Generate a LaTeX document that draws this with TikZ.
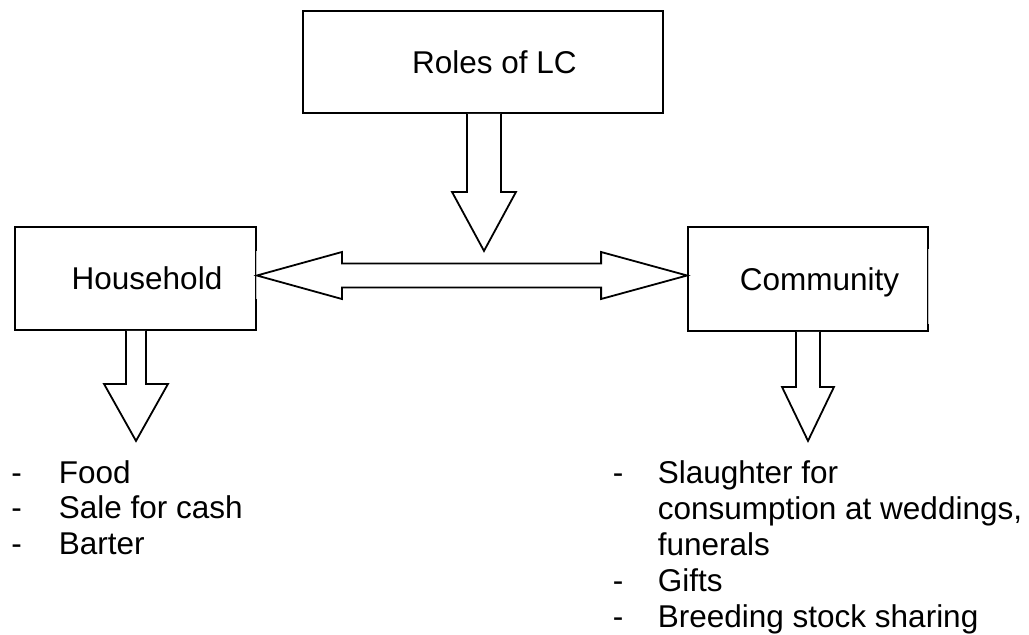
\documentclass[tikz,border=0pt]{standalone}
\usepackage{fontspec}
\setmainfont{Liberation Sans}
\usetikzlibrary{calc}
\begin{document}
\begin{tikzpicture}[x=1pt,y=-1pt,line width=1.8pt,
  every node/.style={font=\fontsize{31.5}{35.5}\selectfont},
  box/.style={draw,inner sep=0pt,text height=22.5pt,text depth=0pt},
  blockarrow/.style={draw,line join=miter,fill=white},
  gapline/.style={draw=white,line width=2.4pt},
  faintline/.style={draw=black!25,line width=1pt},
  listnode/.style={anchor=base west,inner sep=0pt}]
\useasboundingbox (0,0) rectangle (1029,635);

% boxes
\node[box,minimum width=360pt,minimum height=102pt] (roles) at (483,62) {\hspace*{23pt}Roles of LC};
\node[box,minimum width=241pt,minimum height=103pt] (household) at (135.5,278.5) {\hspace*{23pt}Household};
\node[box,minimum width=240pt,minimum height=104pt] (community) at (808,279) {\hspace*{23pt}Community};

% faint parts of right edges
\draw[gapline] ($(household.north east)+(0,25)$) -- ($(household.north east)+(0,73)$);
\draw[faintline] ($(household.north east)+(0,25)$) -- ($(household.north east)+(0,73)$);
\draw[gapline] ($(community.north east)+(0,23)$) -- ($(community.north east)+(0,98)$);
\draw[faintline] ($(community.north east)+(0,23)$) -- ($(community.north east)+(0,98)$);

% Roles -> down arrow
\coordinate (rs) at ($(roles.south)+(1,0)$);
\draw[blockarrow] ($(rs)+(-17,0)$) -- ($(rs)+(-17,78)$) -- ($(rs)+(-32,78)$) -- ($(rs)+(0,137)$)
  -- ($(rs)+(32,78)$) -- ($(rs)+(17,78)$) -- ($(rs)+(17,0)$);

% double arrow between Household and Community
\coordinate (L) at ($(household.east)+(0,-3)$);
\coordinate (R) at ($(community.west)+(0,-3.5)$);
\draw[blockarrow] (L) -- ($(L)+(85,-23.5)$) -- ($(L)+(85,-12)$) -- ($(R)+(-86,-12)$) -- ($(R)+(-86,-23.5)$)
  -- (R) -- ($(R)+(-86,23.5)$) -- ($(R)+(-86,12)$) -- ($(L)+(85,12)$) -- ($(L)+(85,23.5)$) -- cycle;

% Household down arrow
\coordinate (hs) at ($(household.south)+(0.5,0)$);
\draw[blockarrow] ($(hs)+(-10,0)$) -- ($(hs)+(-10,53)$) -- ($(hs)+(-32,53)$) -- ($(hs)+(0,110)$)
  -- ($(hs)+(32,53)$) -- ($(hs)+(10,53)$) -- ($(hs)+(10,0)$);

% Community down arrow
\coordinate (cs) at (community.south);
\draw[blockarrow] ($(cs)+(-12,0)$) -- ($(cs)+(-12,55)$) -- ($(cs)+(-26,55)$) -- ($(cs)+(0,109)$)
  -- ($(cs)+(26,55)$) -- ($(cs)+(12,55)$) -- ($(cs)+(12,0)$);

% lists
\node[listnode] (hhlist) at (10.5,483) {%
  \begin{tabular}[t]{@{}p{47.5pt}@{}l@{}}
  -&Food\\
  -&Sale for cash\\
  -&Barter
  \end{tabular}};
\node[listnode,font=\fontsize{31.5}{36}\selectfont] (comlist) at (612,483) {%
  \begin{tabular}[t]{@{}p{45pt}@{}l@{}}
  -&Slaughter for\\
  &consumption at weddings,\\
  &funerals\\
  -&Gifts\\
  -&Breeding stock sharing
  \end{tabular}};
\end{tikzpicture}
\end{document}
